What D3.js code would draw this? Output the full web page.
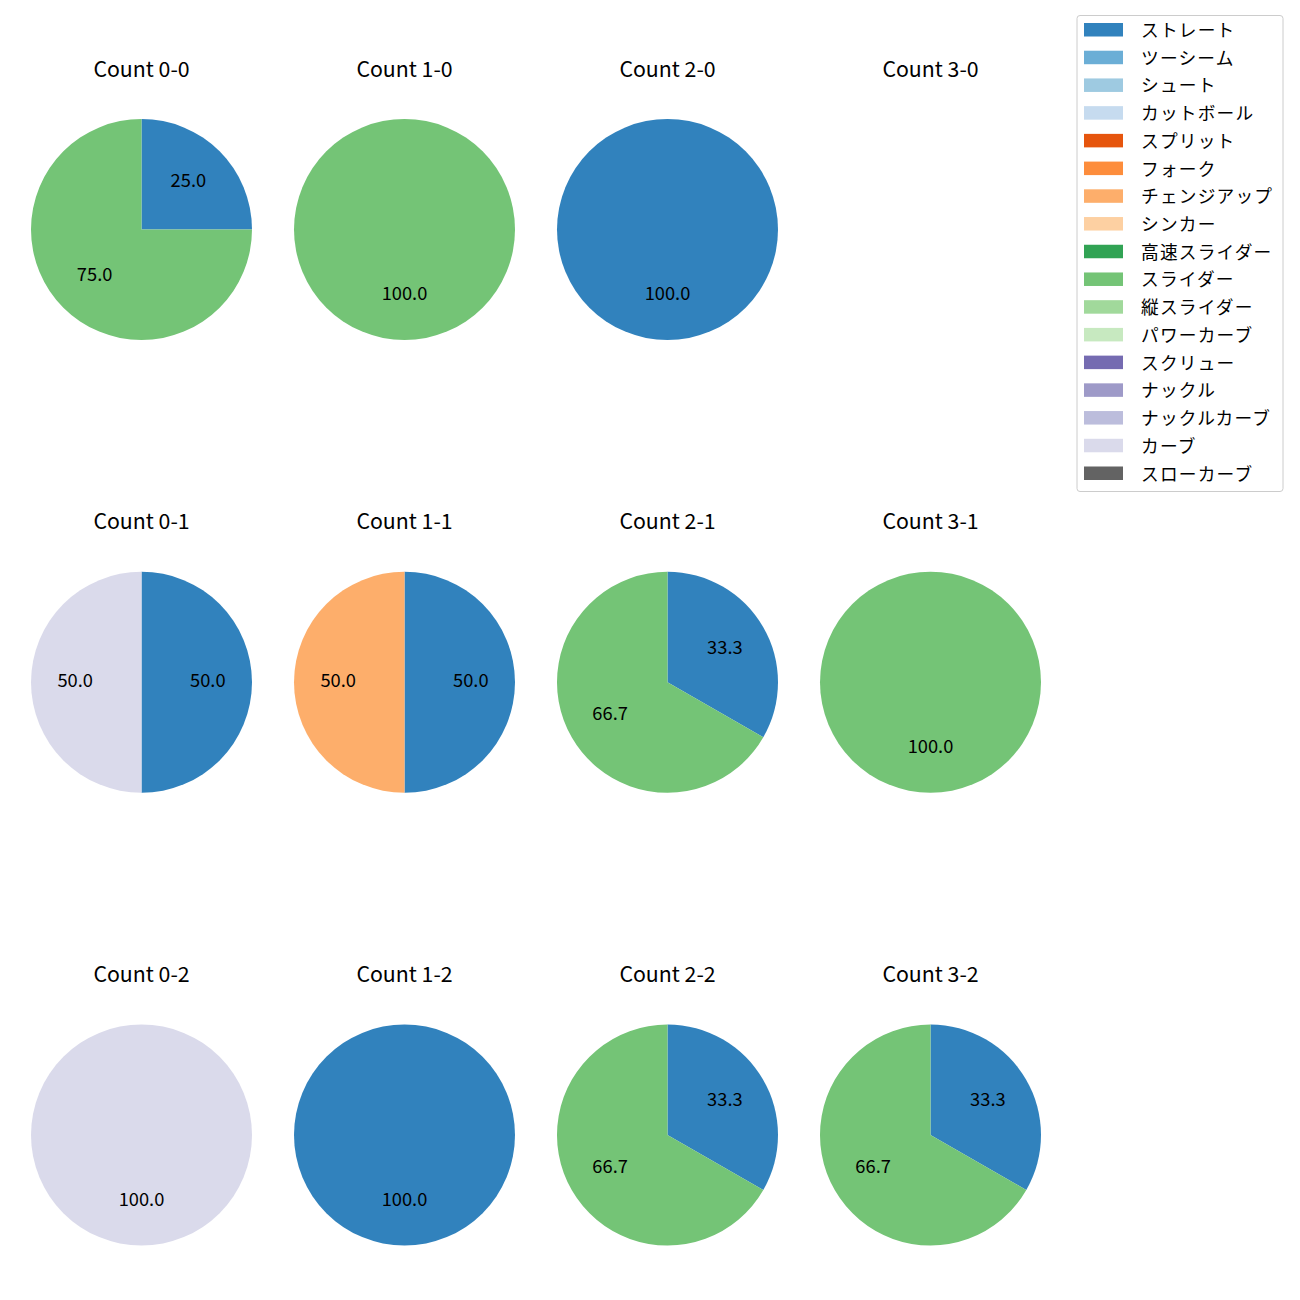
<!DOCTYPE html>
<html><head><meta charset="utf-8">
<script src="https://cdn.jsdelivr.net/npm/d3@7"></script>
<style>body{margin:0;background:#fff;} text{font-family:"Noto Sans CJK JP","Noto Sans",sans-serif;}</style>
</head><body>
<script>
const counts = ["0-0","1-0","2-0","3-0","0-1","1-1","2-1","3-1","0-2","1-2","2-2","3-2"];
const pitchTypes = ["ストレート","ツーシーム","シュート","カットボール","スプリット","フォーク","チェンジアップ","シンカー","高速スライダー","スライダー","縦スライダー","パワーカーブ","スクリュー","ナックル","ナックルカーブ","カーブ","スローカーブ"];
const pitchColors = ["#3182bd","#6baed6","#9ecae1","#c6dbef","#e6550d","#fd8d3c","#fdae6b","#fdd0a2","#31a354","#74c476","#a1d99b","#c7e9c0","#756bb1","#9e9ac8","#bcbddc","#dadaeb","#636363"];
// share (%) per count, in the order of `counts`
const straightVals = [25,0,100,0, 50,50,33.3,0, 0,100,33.3,33.3];
const sliderVals   = [75,100,0,0, 0,0,66.7,100, 0,0,66.7,66.7];
const changeupVals = [0,0,0,0, 0,50,0,0, 0,0,0,0];
const curveVals    = [0,0,0,0, 50,0,0,0, 100,0,0,0];

const seriesByType = {"ストレート":straightVals,"スライダー":sliderVals,"チェンジアップ":changeupVals,"カーブ":curveVals};

const W=1300,H=1300;
const svg=d3.select("body").append("svg").attr("width",W).attr("height",H);
const color=d3.scaleOrdinal().domain(pitchTypes).range(pitchColors);
const colX=d3.scalePoint().domain([0,1,2,3]).range([141.5,930.5]);
const rowY=d3.scalePoint().domain([0,1,2]).range([229.5,1135]);
const R=110.5;
const pie=d3.pie().sort(null).value(d=>d.v).startAngle(0).endAngle(2*Math.PI);
const arc=d3.arc().innerRadius(0).outerRadius(R);
const labelArc=d3.arc().innerRadius(R*0.6).outerRadius(R*0.6);

counts.forEach((c,i)=>{
  const col=i%4,row=Math.floor(i/4);
  const cx=colX(col),cy=rowY(row);
  svg.append("text").attr("x",cx).attr("y",cy-153).attr("text-anchor","middle")
    .attr("font-size",21.3).attr("fill","#000").text("Count "+c);
  const data=pitchTypes.map(p=>({p,v:(seriesByType[p]||[])[i]||0})).filter(d=>d.v>0);
  if(!data.length) return;
  const total=d3.sum(data,d=>d.v);
  const g=svg.append("g").attr("transform",`translate(${cx},${cy})`);
  const arcs=pie(data);
  g.selectAll("path").data(arcs).join("path").attr("d",arc).attr("fill",d=>color(d.data.p));
  g.selectAll("text").data(arcs).join("text")
    .attr("transform",d=>{const [x,y]=labelArc.centroid(d);return `translate(${x},${y+4.5})`;})
    .attr("text-anchor","middle")
    .attr("font-size",18.3).attr("fill","#000")
    .text(d=>(d.data.v/total*100).toFixed(1));
});

// legend
const lg=svg.append("g");
lg.append("rect").attr("x",1077).attr("y",15.5).attr("width",206).attr("height",476)
  .attr("rx",3).attr("fill","#fff").attr("stroke","#ccc").attr("stroke-width",1);
const ly=d3.scalePoint().domain(pitchTypes).range([29.5,473]);
pitchTypes.forEach(p=>{
  lg.append("rect").attr("x",1084).attr("y",ly(p)-6.5).attr("width",39).attr("height",13.5).attr("fill",color(p));
  lg.append("text").attr("x",1141).attr("y",ly(p)-0.5).attr("dominant-baseline","central")
    .attr("font-size",17.7).attr("letter-spacing",1.2).attr("fill","#000").text(p);
});
</script>
</body></html>
